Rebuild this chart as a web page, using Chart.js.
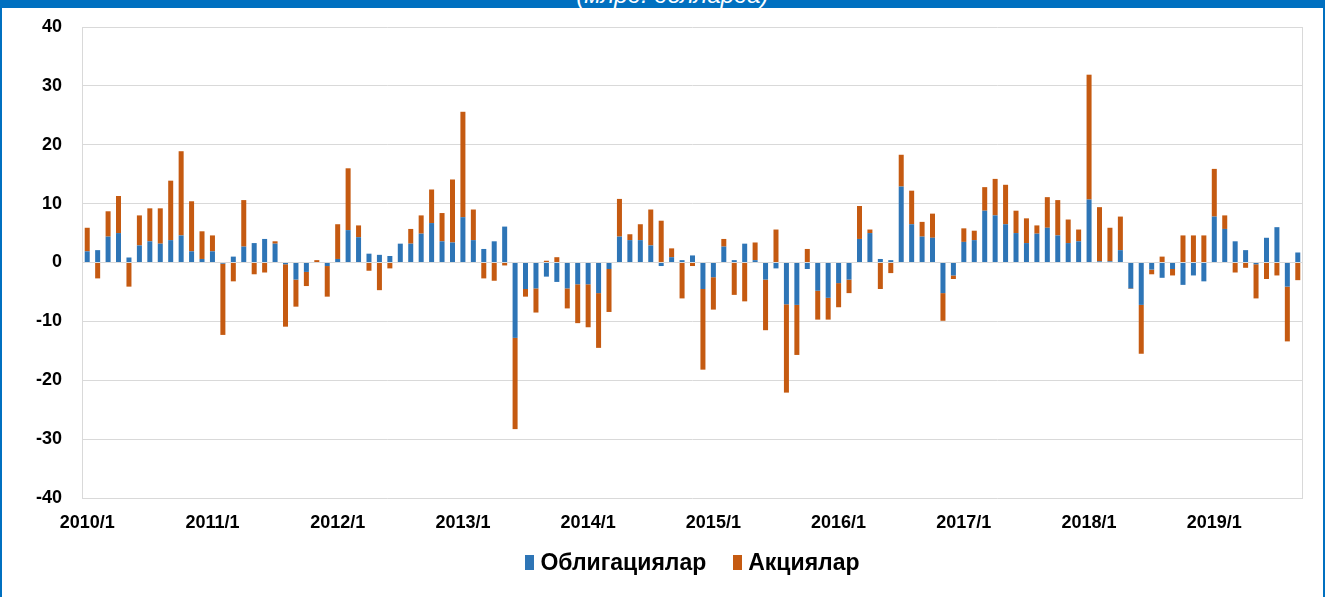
<!DOCTYPE html>
<html><head><meta charset="utf-8">
<script src="https://cdn.jsdelivr.net/npm/chart.js@4"></script>
<style>
html,body{margin:0;padding:0;background:#fff;}
#wrap{position:relative;width:1325px;height:597px;overflow:hidden;background:#fff;}
#band{position:absolute;left:0;top:0;width:1325px;height:8px;background:#0070C0;overflow:hidden;z-index:2;}
#band span{position:absolute;left:0;width:1345px;text-align:center;top:-19px;color:#fff;font:italic 24px "Liberation Sans",Arial,sans-serif;white-space:nowrap;}
#lb,#rb{position:absolute;top:0;width:2px;height:597px;background:#0070C0;z-index:2}
#lb{left:0} #rb{right:0}
#c{position:absolute;left:0;top:0;}
#legend{position:absolute;top:549px;left:82px;width:1221px;height:26px;display:flex;justify-content:center;align-items:center;font:bold 23px "Liberation Sans",Arial,sans-serif;color:#000;}
#legend .it{display:flex;align-items:center;}
#legend .bx{width:9px;height:15px;margin-right:6px;}
#legend .it + .it{margin-left:27px;}
</style>
</head><body>
<div id="wrap">
  <canvas id="c" width="1325" height="597"></canvas>
  <div id="band"><span>(млрд. долларда)</span></div>
  <div id="lb"></div><div id="rb"></div>
  <div id="legend"></div>
</div>
<script>
const years = [2010, 2011, 2012, 2013, 2014, 2015, 2016, 2017, 2018, 2019];
const monthsInYear = [12, 12, 12, 12, 12, 12, 12, 12, 12, 9];
const categories = [];
years.forEach((y, i) => { for (let m = 1; m <= monthsInYear[i]; m++) categories.push(y + '/' + m); });

const seriesNames = ['Облигациялар', 'Акциялар'];
const seriesColors = ['#2E75B6', '#C55A11'];

const bonds = [
  1.9, 2.1, 4.4, 5.0, 0.85, 2.9, 3.6, 3.2, 3.8, 4.6, 1.9, 0.6,
  1.9, -0.2, 1.0, 2.7, 3.3, 4.0, 3.2, -0.3, -2.9, -1.6, 0, -0.6,
  0.6, 5.5, 4.3, 1.5, 1.3, 1.1, 3.2, 3.2, 4.9, 6.7, 3.6, 3.4,
  7.7, 3.8, 2.3, 3.6, 6.1, -12.8, -4.5, -4.4, -2.4, -3.3, -4.4, -3.7,
  -3.7, -5.2, -1.1, 4.4, 3.8, 3.8, 2.9, -0.6, 0.9, 0.4, 1.2, -4.5,
  -2.5, 2.7, 0.4, 3.2, 0.4, -2.9, -1.0, -7.1, -7.2, -1.1, -4.8, -6.0,
  -3.5, -2.9, 4.0, 5.0, 0.6, 0.4, 12.9, 6.5, 4.4, 4.2, -5.2, -2.2,
  3.5, 3.8, 8.8, 8.0, 6.5, 5.0, 3.3, 4.9, 5.9, 4.6, 3.3, 3.6,
  10.7, 0.2, 0.2, 2.1, -4.4, -7.2, -1.2, -2.6, -1.1, -3.8, -2.2, -3.2,
  7.8, 5.7, 3.6, 2.1, -0.3, 4.2, 6.0, -4.1, 1.7
];
const stocks = [
  4.0, -2.7, 4.3, 6.3, -4.1, 5.1, 5.6, 6.0, 10.1, 14.3, 8.5, 4.7,
  2.7, -12.1, -3.2, 7.9, -2.0, -1.7, 0.4, -10.6, -4.6, -2.4, 0.4, -5.2,
  5.9, 10.5, 2.0, -1.4, -4.7, -1.0, 0, 2.5, 3.1, 5.7, 4.8, 10.7,
  17.9, 5.2, -2.7, -3.1, -0.5, -15.5, -1.3, -4.1, 0.3, 0.9, -3.4, -6.6,
  -7.3, -9.3, -7.3, 6.4, 1.0, 2.7, 6.1, 7.1, 1.5, -6.1, -0.6, -13.7,
  -5.5, 1.3, -5.5, -6.6, 3.0, -8.6, 5.6, -15.0, -8.5, 2.3, -4.9, -3.7,
  -4.1, -2.3, 5.6, 0.6, -4.5, -1.8, 5.4, 5.7, 2.5, 4.1, -4.7, -0.6,
  2.3, 1.6, 4.0, 6.2, 6.7, 3.8, 4.2, 1.4, 5.2, 6.0, 4.0, 2.0,
  21.2, 9.2, 5.7, 5.7, -0.1, -8.3, -0.8, 1.0, -1.1, 4.6, 4.6, 4.6,
  8.1, 2.3, -1.7, -0.9, -5.8, -2.8, -2.2, -9.3, -3.0
];
const yMin = -40, yMax = 40, yStep = 10;

// HTML legend
const lg = document.getElementById('legend');
seriesNames.forEach((n, i) => {
  const it = document.createElement('div'); it.className = 'it';
  const b = document.createElement('div'); b.className = 'bx'; b.style.background = seriesColors[i];
  const t = document.createElement('span'); t.textContent = n;
  it.appendChild(b); it.appendChild(t); lg.appendChild(it);
});

const framePlugin = {
  id: 'frame',
  beforeDatasetsDraw(chart) {
    const {ctx, chartArea: a} = chart;
    ctx.save();
    ctx.strokeStyle = '#D9D9D9';
    ctx.lineWidth = 1;
    ctx.beginPath();
    ctx.moveTo(Math.round(a.left) + 0.5, a.top); ctx.lineTo(Math.round(a.left) + 0.5, a.bottom);
    ctx.moveTo(Math.round(a.right) - 0.5, a.top); ctx.lineTo(Math.round(a.right) - 0.5, a.bottom);
    ctx.stroke();
    ctx.restore();
  }
};

const tickFont = {family: '"Liberation Sans", Arial, sans-serif', size: 18, weight: 'bold'};

new Chart(document.getElementById('c'), {
  type: 'bar',
  data: {
    labels: categories,
    datasets: [
      {label: seriesNames[0], data: bonds, backgroundColor: seriesColors[0], stack: 's', categoryPercentage: 1, barPercentage: 0.48},
      {label: seriesNames[1], data: stocks, backgroundColor: seriesColors[1], stack: 's', categoryPercentage: 1, barPercentage: 0.48}
    ]
  },
  options: {
    responsive: false,
    animation: false,
    devicePixelRatio: 1,
    layout: {padding: {left: 0, right: 22, top: 27, bottom: 0}},
    plugins: {legend: {display: false}, tooltip: {enabled: false}, title: {display: false}},
    scales: {
      x: {
        stacked: true,
        grid: {display: false, drawTicks: false},
        border: {display: false},
        ticks: {
          autoSkip: false, maxRotation: 0, minRotation: 0, padding: 14,
          color: '#000', font: tickFont,
          callback: (v, i) => categories[i].endsWith('/1') ? categories[i] : ''
        },
        afterFit: s => { s.height = 99; s.paddingLeft = 0; s.paddingRight = 0; }
      },
      y: {
        stacked: true,
        min: yMin, max: yMax,
        grid: {color: '#D9D9D9', lineWidth: 1, drawTicks: false},
        border: {display: false},
        ticks: {stepSize: yStep, padding: 20, color: '#000', font: tickFont},
        afterFit: s => { s.width = 82; s.paddingTop = 0; s.paddingBottom = 0; }
      }
    }
  },
  plugins: [framePlugin]
});
</script>
</body></html>
